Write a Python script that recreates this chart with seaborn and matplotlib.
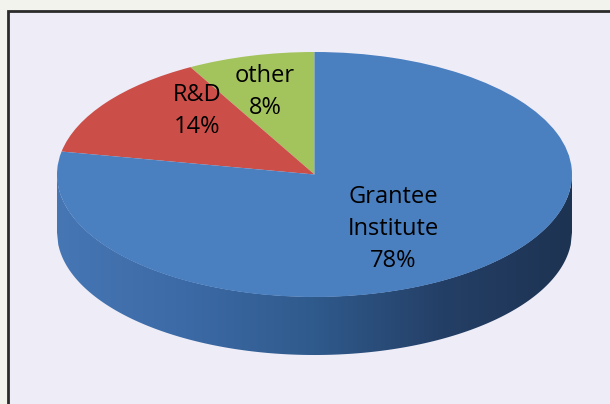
import numpy as np
import matplotlib.pyplot as plt
import seaborn as sns
from matplotlib.colors import LinearSegmentedColormap
from matplotlib.patches import Rectangle

categories = ["other", "R&D", "Grantee Institute"]
shares = [8, 14, 78]
label_lines = ["other\n8%", "R&D\n14%", "Grantee\nInstitute\n78%"]

sns.set_theme(style="white")
plt.rcParams['font.family'] = ['Open Sans', 'DejaVu Sans']

top_colors = ["#a3c35c", "#cb4e48", "#4a7fc0"]
side_cmap = LinearSegmentedColormap.from_list(
    "side", ["#4676b4", "#3c6aa6", "#2f5a8c", "#243f66", "#1d3352"])

W, H = 610, 404
fig = plt.figure(figsize=(W / 100, H / 100), dpi=100)
fig.patch.set_facecolor("#f3f3ee")

# chart frame (behind the axes)
frame = Rectangle((8 / W, -0.1), 1.1, 1 - 11 / H + 0.1, transform=fig.transFigure,
                  facecolor="#eeedf7", edgecolor="#2b2b2b", linewidth=2.0, zorder=-5)
fig.patches.append(frame)

# pie geometry in pixels: top face ellipse
cx, cy, a, b, depth = 314.5, 174.5, 257.5, 122.5, 58.0

ax = fig.add_axes([0, 0, 1, 1], zorder=1)
ax.patch.set_visible(False)
wedges, _ = ax.pie(shares, colors=top_colors, startangle=90, counterclock=True,
                   radius=1, center=(0, 0), wedgeprops=dict(linewidth=0))
for w in wedges:
    w.set_zorder(3)
ax.set_aspect("auto")
ax.axis("off")

# side of the cylinder (front half only)
h = depth / b
xs = np.linspace(-1, 1, 400)
y_top = -np.sqrt(np.clip(1 - xs ** 2, 0, None))
side = ax.fill_between(xs, y_top + 0.002, y_top - h, color="none", zorder=1)
grad = np.linspace(0, 1, 256).reshape(1, -1)
img = ax.imshow(grad, cmap=side_cmap, extent=(-1, 1, -1 - h, 0.05),
                aspect="auto", zorder=2)
img.set_clip_path(side.get_paths()[0], transform=ax.transData)
ax.set_xlim(-cx / a, (W - cx) / a)
ax.set_ylim(-(H - cy) / b, cy / b)

# labels
label_px = [(265, 92), (197, 111), (393, 229)]
for txt, (px, py) in zip(label_lines, label_px):
    ax.text((px - cx) / a, (cy - py) / b, txt, ha="center", va="center",
            fontsize=17, color="black", linespacing=1.45, zorder=5)

fig.savefig("out.png", dpi=100, facecolor=fig.get_facecolor())
